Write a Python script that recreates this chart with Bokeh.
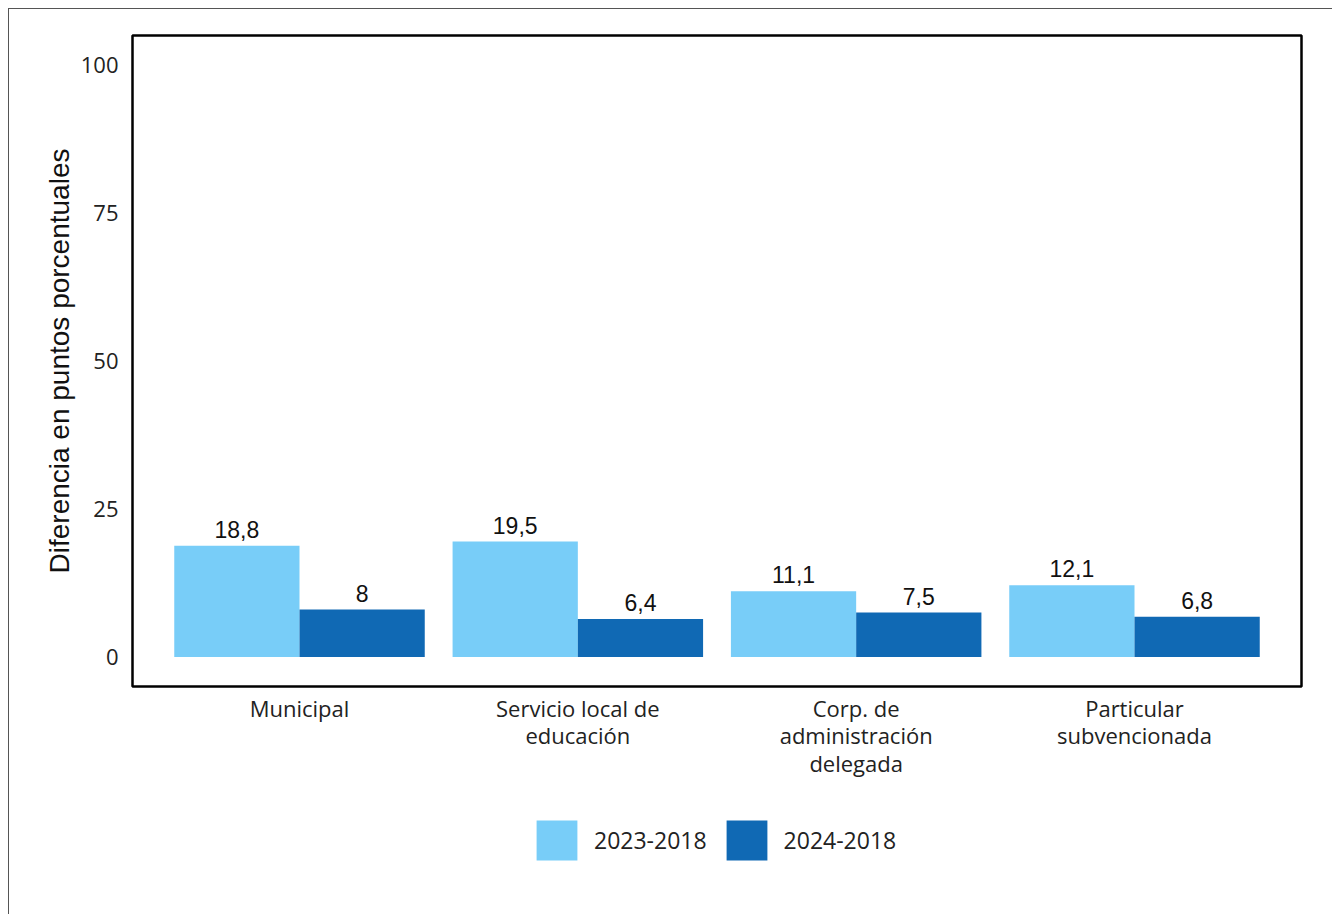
from bokeh.plotting import figure
from bokeh.layouts import column
from bokeh.models import ColumnDataSource, FixedTicker, LabelSet, Legend, LegendItem
from bokeh.core.properties import value
from bokeh.transform import dodge
from bokeh.embed import file_html
from bokeh.resources import INLINE

categories = ["Municipal", "Servicio local de\neducación", "Corp. de\nadministración\ndelegada", "Particular\nsubvencionada"]
series_names = ["2023-2018", "2024-2018"]
values_2023 = [18.8, 19.5, 11.1, 12.1]
values_2024 = [8.0, 6.4, 7.5, 6.8]
y_ticks = [0, 25, 50, 75, 100]

colors = ["#78CDF8", "#1069B4"]

def fmt(v):
    s = ("%.1f" % v).rstrip("0").rstrip(".")
    return s.replace(".", ",")

xs = [i + 0.5 for i in range(len(categories))]
src = ColumnDataSource(dict(
    x=xs,
    a=values_2023, b=values_2024,
    la=[fmt(v) for v in values_2023], lb=[fmt(v) for v in values_2024],
))

p = figure(width=1324, height=790, x_range=(-0.1, 4.1), y_range=(-5, 105),
           output_backend="svg", toolbar_location=None,
           min_border_left=123, min_border_right=32, min_border_top=26, min_border_bottom=113)

bw = 0.45
r1 = p.vbar(x=dodge("x", -bw / 2), top="a", width=bw, source=src, color=colors[0], line_color=None)
r2 = p.vbar(x=dodge("x", bw / 2), top="b", width=bw, source=src, color=colors[1], line_color=None)

lab_font = "Liberation Sans"
for col, lcol, off in [("a", "la", -bw / 2), ("b", "lb", bw / 2)]:
    p.add_layout(LabelSet(x=dodge("x", off), y=col, text=lcol, source=src, y_offset=8,
                          text_align="center", text_baseline="bottom",
                          text_font=value(lab_font), text_font_size="23px", text_color="#111111"))

p.xgrid.visible = False
p.ygrid.visible = False
p.outline_line_color = "black"
p.outline_line_width = 2.5

tick_font = "Open Sans"
p.xaxis.ticker = FixedTicker(ticks=xs)
p.xaxis.major_label_overrides = {x: c for x, c in zip(xs, categories)}
p.yaxis.ticker = FixedTicker(ticks=y_ticks)
for ax in (p.xaxis, p.yaxis):
    ax.axis_line_color = None
    ax.major_tick_line_color = None
    ax.minor_tick_line_color = None
    ax.major_label_text_font = tick_font
    ax.major_label_text_font_size = "22px"
    ax.major_label_text_color = "#222222"
p.xaxis.major_label_standoff = 0
p.xaxis.major_label_text_line_height = 0.93
p.yaxis.major_label_standoff = 8
p.yaxis.axis_label = "Diferencia en puntos porcentuales"
p.yaxis.axis_label_text_font = lab_font
p.yaxis.axis_label_text_font_size = "28px"
p.yaxis.axis_label_text_font_style = "normal"
p.yaxis.axis_label_text_color = "#111111"
p.yaxis.axis_label_standoff = 3

# legend strip (its bars lie far outside its visible range; only the legend shows)
pl = figure(width=1324, height=115, x_range=(100, 101), y_range=(100, 101),
            output_backend="svg", toolbar_location=None,
            min_border_left=0, min_border_right=0, min_border_top=0, min_border_bottom=0)
pl.axis.visible = False
pl.xgrid.visible = False
pl.ygrid.visible = False
pl.outline_line_color = None
l1 = pl.vbar(x="x", top="a", bottom=0, width=0.1, source=src, color=colors[0], line_color=None)
l2 = pl.vbar(x="x", top="b", bottom=0, width=0.1, source=src, color=colors[1], line_color=None)
legend = Legend(items=[LegendItem(label=series_names[0], renderers=[l1]),
                       LegendItem(label=series_names[1], renderers=[l2])],
                location=(399, 49), orientation="horizontal",
                glyph_width=51, glyph_height=50, label_standoff=12, spacing=14,
                padding=0, margin=0, border_line_color=None, background_fill_alpha=0,
                label_text_font=tick_font, label_text_font_size="23px", label_text_color="#222222")
pl.add_layout(legend, "center")

layout = column(p, pl, spacing=0)
layout.styles = {"border-top": "1px solid #555", "border-left": "1px solid #555",
                 "margin-left": "8px", "margin-top": "8px"}

open("out.html", "w").write(file_html(layout, INLINE))
